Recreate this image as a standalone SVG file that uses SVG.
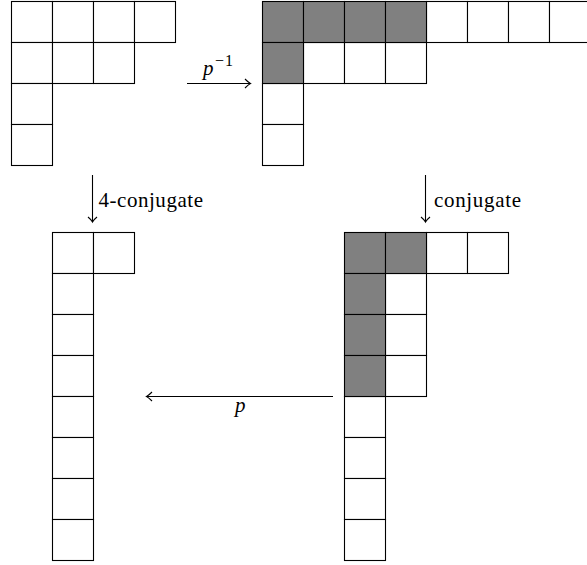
<svg xmlns="http://www.w3.org/2000/svg" width="587" height="565" viewBox="0 0 587 565">
<style>
.c{fill:#fff;stroke:#000;stroke-width:1.1}
.g{fill:#808080;stroke:#000;stroke-width:1.1}
.ln{fill:none;stroke:#000;stroke-width:1.1}
.t{font-family:"Liberation Serif","Times New Roman",serif;font-size:21px;fill:#000}
.i{font-style:italic}
.sup{font-size:16px}
</style>
<defs>
<rect id="cell" width="41" height="41"/>
</defs>
<rect width="587" height="565" fill="#fff"/>
<g id="top-left">
<use href="#cell" class="c" x="11.5" y="1.5"/><use href="#cell" class="c" x="52.5" y="1.5"/><use href="#cell" class="c" x="93.5" y="1.5"/><use href="#cell" class="c" x="134.5" y="1.5"/>
<use href="#cell" class="c" x="11.5" y="42.5"/><use href="#cell" class="c" x="52.5" y="42.5"/><use href="#cell" class="c" x="93.5" y="42.5"/>
<use href="#cell" class="c" x="11.5" y="83.5"/>
<use href="#cell" class="c" x="11.5" y="124.5"/>
</g>
<g id="top-right">
<use href="#cell" class="c" x="426.5" y="1.5"/><use href="#cell" class="c" x="467.5" y="1.5"/><use href="#cell" class="c" x="508.5" y="1.5"/><use href="#cell" class="c" x="549.5" y="1.5"/>
<use href="#cell" class="c" x="303.5" y="42.5"/><use href="#cell" class="c" x="344.5" y="42.5"/><use href="#cell" class="c" x="385.5" y="42.5"/>
<use href="#cell" class="c" x="262.5" y="83.5"/>
<use href="#cell" class="c" x="262.5" y="124.5"/>
<use href="#cell" class="g" x="262.5" y="1.5"/><use href="#cell" class="g" x="303.5" y="1.5"/><use href="#cell" class="g" x="344.5" y="1.5"/><use href="#cell" class="g" x="385.5" y="1.5"/>
<use href="#cell" class="g" x="262.5" y="42.5"/>
</g>
<g id="bottom-left">
<use href="#cell" class="c" x="52.5" y="232.5"/><use href="#cell" class="c" x="93.5" y="232.5"/>
<use href="#cell" class="c" x="52.5" y="273.5"/>
<use href="#cell" class="c" x="52.5" y="314.5"/>
<use href="#cell" class="c" x="52.5" y="355.5"/>
<use href="#cell" class="c" x="52.5" y="396.5"/>
<use href="#cell" class="c" x="52.5" y="437.5"/>
<use href="#cell" class="c" x="52.5" y="478.5"/>
<use href="#cell" class="c" x="52.5" y="519.5"/>
</g>
<g id="bottom-right">
<use href="#cell" class="c" x="426.5" y="232.5"/><use href="#cell" class="c" x="467.5" y="232.5"/>
<use href="#cell" class="c" x="385.5" y="273.5"/>
<use href="#cell" class="c" x="385.5" y="314.5"/>
<use href="#cell" class="c" x="385.5" y="355.5"/>
<use href="#cell" class="c" x="344.5" y="396.5"/>
<use href="#cell" class="c" x="344.5" y="437.5"/>
<use href="#cell" class="c" x="344.5" y="478.5"/>
<use href="#cell" class="c" x="344.5" y="519.5"/>
<use href="#cell" class="g" x="344.5" y="232.5"/><use href="#cell" class="g" x="385.5" y="232.5"/>
<use href="#cell" class="g" x="344.5" y="273.5"/>
<use href="#cell" class="g" x="344.5" y="314.5"/>
<use href="#cell" class="g" x="344.5" y="355.5"/>
</g>
<g id="connectors">
<path class="ln" d="M187,83.5 H250"/>
<path class="ln" d="M245,79 Q248.5,82.6 250.5,83.5 Q248.5,84.4 245,88"/>
<path class="ln" d="M92.5,175 V221.5"/>
<path class="ln" d="M88,217 Q91.6,220 92.5,222 Q93.4,220 97,217"/>
<path class="ln" d="M425.5,175 V221.5"/>
<path class="ln" d="M421,217 Q424.6,220 425.5,222 Q426.4,220 430,217"/>
<path class="ln" d="M333,396.5 H147"/>
<path class="ln" d="M152,392 Q148.5,395.6 146.5,396.5 Q148.5,397.4 152,401"/>
</g>
<g id="labels">
<text class="t i" x="203" y="75">p</text>
<text class="t sup" x="215" y="66" textLength="18" lengthAdjust="spacing">−1</text>
<text class="t" x="98.5" y="206.5" textLength="104.5" lengthAdjust="spacing">4-conjugate</text>
<text class="t" x="434" y="206.5" textLength="87" lengthAdjust="spacing">conjugate</text>
<text class="t i" x="235" y="412">p</text>
</g>
</svg>
